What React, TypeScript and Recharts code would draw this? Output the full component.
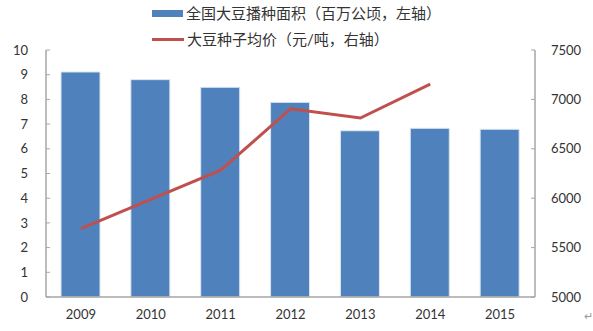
import { Bar, ComposedChart, Line, XAxis, YAxis } from 'recharts';

const YEARS = ['2009', '2010', '2011', '2012', '2013', '2014', '2015'];
const AREA = [9.11, 8.8, 8.49, 7.88, 6.73, 6.83, 6.79];
const PRICE: (number | null)[] = [5692, 5988, 6283, 6905, 6811, 7154, null];
const LEFT_TICKS = [0, 1, 2, 3, 4, 5, 6, 7, 8, 9, 10];
const RIGHT_TICKS = [5000, 5500, 6000, 6500, 7000, 7500];
const AREA_NAME = '全国大豆播种面积（百万公顷，左轴）';
const PRICE_NAME = '大豆种子均价（元/吨，右轴）';

const FONT = 'Lato, "Noto Sans CJK SC", sans-serif';
const BLUE = '#4f81bd';
const RED = '#c0504d';
const AXIS = '#a6a6a6';
const TEXT = '#333333';

const data = YEARS.map((year, i) => ({ year, area: AREA[i], price: PRICE[i] }));

export default function App() {
  return (
    <div style={{ position: 'absolute', left: 0, top: 0, width: 593, height: 331, background: '#fff', fontFamily: FONT }}>
      <div style={{ position: 'absolute', left: 152, top: 3, fontSize: 15, color: TEXT, lineHeight: '20px' }}>
        <div style={{ display: 'flex', alignItems: 'center', height: 20 }}>
          <span style={{ display: 'inline-block', width: 31, height: 7, background: BLUE, marginRight: 3 }} />
          {AREA_NAME}
        </div>
        <div style={{ display: 'flex', alignItems: 'center', height: 20, marginTop: 6 }}>
          <span style={{ display: 'inline-block', width: 32, height: 3, background: RED, marginRight: 3 }} />
          {PRICE_NAME}
        </div>
      </div>
      <ComposedChart
        width={593}
        height={331}
        data={data}
        margin={{ top: 50, right: 0, bottom: 0, left: 0 }}
        style={{ position: 'absolute', left: 0, top: 0 }}
      >
        <XAxis
          dataKey="year"
          height={34}
          axisLine={{ stroke: AXIS, strokeWidth: 1.5 }}
          tickLine={false}
          tickSize={0}
          tickMargin={13}
          tick={{ fontSize: 13, fill: TEXT, fontFamily: FONT }}
        />
        <YAxis
          yAxisId="left"
          orientation="left"
          width={46}
          domain={[0, 10]}
          ticks={LEFT_TICKS}
          interval={0}
          axisLine={{ stroke: AXIS, strokeWidth: 1.5 }}
          tickLine={{ stroke: AXIS }}
          tickSize={-4}
          tickMargin={22}
          tick={{ fontSize: 13, fill: TEXT, fontFamily: FONT }}
        />
        <YAxis
          yAxisId="right"
          orientation="right"
          width={58}
          domain={[5000, 7500]}
          ticks={RIGHT_TICKS}
          interval={0}
          axisLine={{ stroke: AXIS, strokeWidth: 1.5 }}
          tickLine={{ stroke: AXIS }}
          tickSize={-4}
          tickMargin={20}
          tick={{ fontSize: 13, fill: TEXT, fontFamily: FONT, textAnchor: 'start' }}
        />
        <Bar
          yAxisId="left"
          dataKey="area"
          name={AREA_NAME}
          fill={BLUE}
          stroke="#dbe5f1"
          strokeWidth={1}
          barSize={39}
          isAnimationActive={false}
        />
        <Line
          yAxisId="right"
          dataKey="price"
          name={PRICE_NAME}
          type="linear"
          stroke={RED}
          strokeWidth={3}
          dot={false}
          activeDot={false}
          isAnimationActive={false}
        />
      </ComposedChart>
      {/* paragraph mark left over from the source document */}
      <div style={{ position: 'absolute', left: 584, top: 309, fontSize: 11, color: '#999' }}>↵</div>
    </div>
  );
}
